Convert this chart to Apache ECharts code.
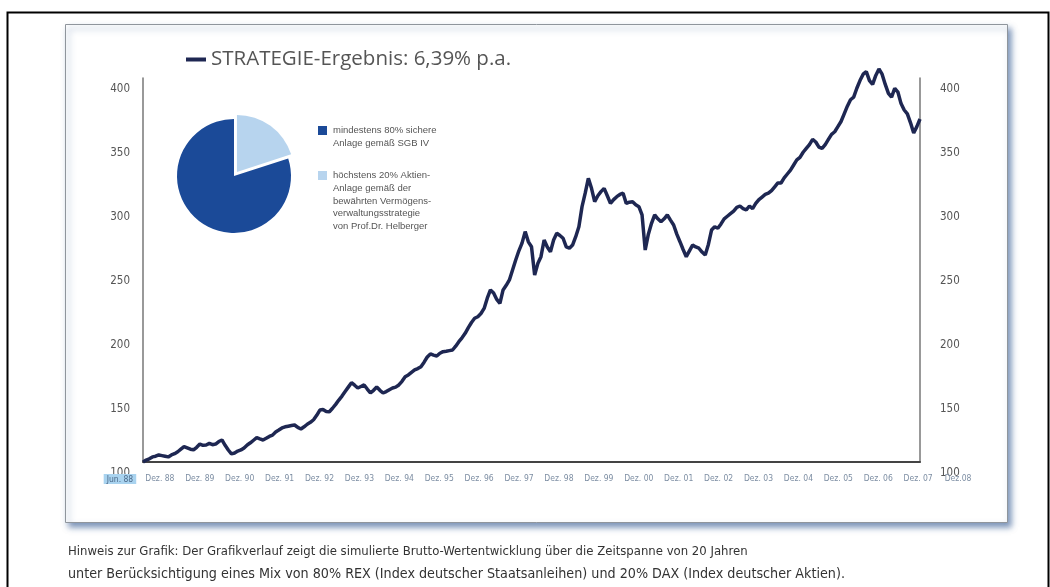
<!DOCTYPE html>
<html><head><meta charset="utf-8">
<script src="https://cdn.jsdelivr.net/npm/echarts@6/dist/echarts.min.js"></script>
<style>html,body{margin:0;padding:0;background:#fff}#c{width:1050px;height:587px}</style>
</head><body><div id="c"></div>
<script>
// ---------- data ----------
const seriesName = 'STRATEGIE-Ergebnis: 6,39% p.a.';
const strategyValues = [
  100, 101.5, 102.5, 104, 104.5, 105.5, 105,
  104.5, 104, 105.5, 106.5, 108, 110, 112, 111, 110, 109.5, 111.5, 114,
  113, 113.3, 114.5, 113.5, 114, 116, 117.2, 113, 109.4, 106.3, 107, 108.5,
  109.4, 111, 113.3, 115, 117, 119, 118, 117.2, 118.5, 120, 121, 123.5,
  125, 126.6, 127.5, 128, 128.5, 128.9, 127, 125.8, 127.5, 129.5, 131, 133,
  136.5, 140.6, 141, 139.5, 139.3, 142, 145, 148.4, 151.5, 155, 158.5, 162,
  160, 157.8, 159, 160.2, 157, 153.9, 156, 158.6, 156, 153.9, 155, 156.5,
  157.8, 158.5, 160.2, 163, 166.6, 168, 170, 171.9, 173, 174.5, 178, 182,
  184.4, 183.5, 182.8, 185, 186.2, 186.5, 187, 187.5, 190.5, 194, 197, 200.5,
  205, 209, 212.3, 213.5, 216, 220, 228, 234.4, 232, 227, 224, 234.4,
  238, 242.2, 250, 257.8, 265, 271, 280, 272, 268.2, 246, 255, 260.4,
  273.4, 268, 264.3, 273.4, 278.7, 277, 274.8, 268, 267, 269.5, 276, 283.8,
  299.5, 310, 321.6, 313.8, 303.4, 308, 311.2, 313.8, 308, 302, 305, 307.3,
  309, 310, 302, 303, 303.4, 301, 299.5, 293, 265.6, 278, 286.5, 293,
  290, 287.7, 290, 293, 289, 285.2, 278, 272.1, 266, 260.4, 265, 269.5,
  268, 267, 264, 261.7, 270, 281.2, 283.8, 282.6, 286, 290, 292, 294,
  296, 299, 300, 298, 297, 300, 298, 302, 305, 307, 309, 310,
  312, 315, 318, 318, 322, 325, 328, 332, 336, 338, 342, 345,
  348, 352, 350, 346, 345, 348, 352, 356, 358, 362, 366, 372,
  378, 383, 385, 392, 398, 403, 405, 398, 395, 402, 407, 403,
  395, 388, 385, 392, 389, 380, 375, 372, 365, 357, 362, 368
];
const tickLabels = ['Jun. 88','Dez. 88','Dez. 89','Dez. 90','Dez. 91','Dez. 92','Dez. 93','Dez. 94','Dez. 95','Dez. 96','Dez. 97','Dez. 98','Dez. 99','Dez. 00','Dez. 01','Dez. 02','Dez. 03','Dez. 04','Dez. 05','Dez. 06','Dez. 07','Dez.08'];
const pieNames = ['höchstens 20% Aktien-\nAnlage gemäß der\nbewährten Vermögens-\nverwaltungsstrategie\nvon Prof.Dr. Helberger', 'mindestens 80% sichere\nAnlage gemäß SGB IV'];
const pieShares = [20, 80];
const pieColors = ['#b7d4ee', '#1b4a98'];
const noteLines = ['Hinweis zur Grafik: Der Grafikverlauf zeigt die simulierte Brutto-Wertentwicklung über die Zeitspanne von 20 Jahren',
  'unter Berücksichtigung eines Mix von 80% REX (Index deutscher Staatsanleihen) und 20% DAX (Index deutscher Aktien).'];

// month categories Jun 1988 .. Dez 2008
const months = [];
for (let y = 1988; y <= 2008; y++) for (let m = 1; m <= 12; m++) {
  if (y === 1988 && m < 6) continue;
  months.push(y + '-' + (m < 10 ? '0' + m : m));
}

const FONT = '"DejaVu Sans Condensed","Liberation Sans Narrow","Open Sans",sans-serif';
const chart = echarts.init(document.getElementById('c'));

const legendGraphics = [];
[1, 0].forEach((idx, k) => {
  const top = k === 0 ? 126 : 171;
  legendGraphics.push({ type: 'rect', left: 318, top: top, shape: { width: 9, height: 9 }, style: { fill: pieColors[idx] }, z: 10 });
  legendGraphics.push({ type: 'text', left: 333, top: top - 2, style: { text: pieNames[idx], fill: '#555', font: '9.5px "Liberation Sans", Arial, sans-serif', lineHeight: 12.8 }, z: 10 });
});

chart.setOption({
  animation: false,
  backgroundColor: '#fff',
  graphic: [
    { type: 'rect', left: 5, top: 10, shape: { width: 1041, height: 600 }, style: { fill: 'none', stroke: '#000', lineWidth: 2 }, z: -20 },
    { type: 'rect', left: 65, top: 24, shape: { width: 942, height: 498 }, style: { fill: '#fff', stroke: '#8f959c', lineWidth: 1, shadowBlur: 6, shadowOffsetX: 3, shadowOffsetY: 4, shadowColor: 'rgba(40,80,140,0.6)' }, z: -10 },
    ...legendGraphics
  ],
  title: [
    { text: noteLines[0], left: 63, top: 540,
      textStyle: { fontFamily: FONT, fontSize: 13, fontWeight: 'normal', color: '#333' } },
    { text: noteLines[1], left: 63, top: 562,
      textStyle: { fontFamily: FONT, fontSize: 14.2, fontWeight: 'normal', color: '#333' } }
  ],
  legend: {
    data: [seriesName], left: 181, top: 44, icon: 'rect', itemWidth: 20, itemHeight: 4, itemGap: 8,
    textStyle: { fontFamily: '"Open Sans","Noto Sans",sans-serif', fontSize: 20.5, color: '#555' }
  },
  grid: [
    { left: 143, right: 130, top: 78, bottom: 125 },
    { left: 100, width: 878, top: 469, height: 1 }
  ],
  xAxis: [
    { type: 'category', gridIndex: 0, data: months, boundaryGap: false,
      axisLine: { lineStyle: { color: '#444', width: 2 } }, axisTick: { show: false }, axisLabel: { show: false }, splitLine: { show: false } },
    { type: 'category', gridIndex: 1, data: tickLabels, boundaryGap: true,
      axisLine: { show: false }, axisTick: { show: false },
      axisLabel: { interval: 0, margin: 4, fontFamily: FONT, fontSize: 8.5, color: '#7d8ea3',
        formatter: (v, i) => i === 0 ? '{hl|' + v + '}' : v,
        rich: { hl: { backgroundColor: '#a9d3ef', color: '#4d6a8a', fontFamily: FONT, fontSize: 8.5, padding: [1, 3, 0, 3] } } } }
  ],
  yAxis: [
    { type: 'value', gridIndex: 0, min: 100, max: 400, interval: 50, position: 'left',
      axisLine: { show: true, lineStyle: { color: '#777', width: 1.5 } }, axisTick: { show: false }, splitLine: { show: false },
      axisLabel: { margin: 13, verticalAlign: 'top', padding: [5, 0, 0, 0], fontFamily: FONT, fontSize: 11.5, color: '#555' } },
    { type: 'value', gridIndex: 0, min: 100, max: 400, interval: 50, position: 'right',
      axisLine: { show: true, lineStyle: { color: '#777', width: 1.5 } }, axisTick: { show: false }, splitLine: { show: false },
      axisLabel: { margin: 20, verticalAlign: 'top', padding: [5, 0, 0, 0], fontFamily: FONT, fontSize: 11.5, color: '#555' } },
    { type: 'value', gridIndex: 1, show: false }
  ],
  series: [
    { name: seriesName, type: 'line', xAxisIndex: 0, yAxisIndex: 0, data: strategyValues, showSymbol: false, clip: false,
      lineStyle: { color: '#1e2752', width: 3.5 }, itemStyle: { color: '#1e2752' } },
    { name: 'Aufteilung', type: 'pie', center: [234, 176], radius: 57, selectedMode: 'single', selectedOffset: 5,
      startAngle: 90, label: { show: false }, labelLine: { show: false }, emphasis: { disabled: true },
      data: pieShares.map((v, i) => ({ name: pieNames[i], value: v, selected: i === 0, itemStyle: { color: pieColors[i] } })) }
  ]
});
</script></body></html>
